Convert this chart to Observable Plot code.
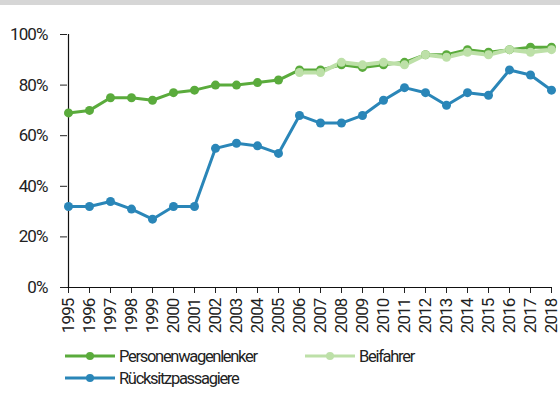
<!DOCTYPE html>
<html>
<head>
<meta charset="utf-8">
<script src="https://cdn.jsdelivr.net/npm/d3@7"></script>
<script src="https://cdn.jsdelivr.net/npm/@observablehq/plot@0.6"></script>
<style>
  body { margin: 0; background: #fff; font-family: Roboto, sans-serif; }
  #band { height: 5px; background: #d6d6d6; }
  #legend { position: relative; height: 50px; font-size: 16.5px; letter-spacing: -1.3px; color: #222; }
  .item { position: absolute; display: flex; align-items: center; }
  .item span { margin-left: 4px; }
  #chart svg text { letter-spacing: -0.9px; }
</style>
</head>
<body>
<div id="band"></div>
<div id="chart"></div>
<div id="legend"></div>
<script>
const years = ["1995","1996","1997","1998","1999","2000","2001","2002","2003","2004","2005","2006","2007","2008","2009","2010","2011","2012","2013","2014","2015","2016","2017","2018"];
const lenker = [69,70,75,75,74,77,78,80,80,81,82,86,86,88,87,88,89,92,92,94,93,94,95,95];
const beifahrerYears = ["2006","2007","2008","2009","2010","2011","2012","2013","2014","2015","2016","2017","2018"];
const beifahrer = [85,85,89,88,89,88,92,91,93,92,94,93,94];
const ruecksitz = [32,32,34,31,27,32,32,55,57,56,53,68,65,65,68,74,79,77,72,77,76,86,84,78];
const seriesNames = ["Personenwagenlenker","Beifahrer","Rücksitzpassagiere"];
const colors = ["#5aab3c","#bde0a8","#2a86b8"];
const yTicks = [0,20,40,60,80,100];

const rows = [
  ...years.map((y,i)=>({year:y, value:lenker[i], s:seriesNames[0]})),
  ...beifahrerYears.map((y,i)=>({year:y, value:beifahrer[i], s:seriesNames[1]})),
  ...years.map((y,i)=>({year:y, value:ruecksitz[i], s:seriesNames[2]}))
];

const plot = Plot.plot({
  width: 560,
  height: 345,
  marginTop: 29,
  marginBottom: 63,
  marginLeft: 67,
  marginRight: 8,
  style: {fontFamily: "Roboto, sans-serif", fontSize: "17px", color: "#222", background: "#fff"},
  x: {type: "point", domain: years, padding: 0},
  y: {domain: [0,100]},
  color: {domain: seriesNames, range: colors},
  marks: [
    Plot.ruleY(yTicks.filter(d=>d>0), {stroke: "#777", strokeWidth: 1.3, x1: years[0], x2: years[years.length-1]}),
    Plot.axisY({ticks: yTicks, tickFormat: d => d + "%", tickSize: 7, tickPadding: 13, stroke: "#222", label: null, fontSize: 17}),
    Plot.axisX({tickRotate: -90, tickSize: 6, tickPadding: 5, label: null, stroke: "#222", fontSize: 17}),
    Plot.ruleX([years[0]], {stroke: "#111", strokeWidth: 1.2}),
    Plot.ruleY([0], {stroke: "#111", strokeWidth: 1.2}),
    ...seriesNames.map((n,k)=>Plot.line(rows.filter(r=>r.s===n), {x:"year", y:"value", stroke: colors[k], strokeWidth: k===1?4:3})),
    ...seriesNames.map((n,k)=>Plot.dot(rows.filter(r=>r.s===n), {x:"year", y:"value", fill: colors[k], r: 4.5}))
  ]
});
document.getElementById("chart").appendChild(plot);

// legend
const legend = d3.select("#legend");
const pos = [[65, 6], [305, 6], [65, 28]];
seriesNames.forEach((n,k)=>{
  const it = legend.append("div").attr("class","item")
    .style("left", pos[k][0]+"px").style("top", (pos[k][1]-10)+"px");
  const sv = it.append("svg").attr("width", 50).attr("height", 20);
  sv.append("line").attr("x1",0).attr("x2",50).attr("y1",10).attr("y2",10).attr("stroke",colors[k]).attr("stroke-width",3);
  sv.append("circle").attr("cx",25).attr("cy",10).attr("r",4).attr("fill",colors[k]);
  it.append("span").text(n);
});
</script>
</body>
</html>
